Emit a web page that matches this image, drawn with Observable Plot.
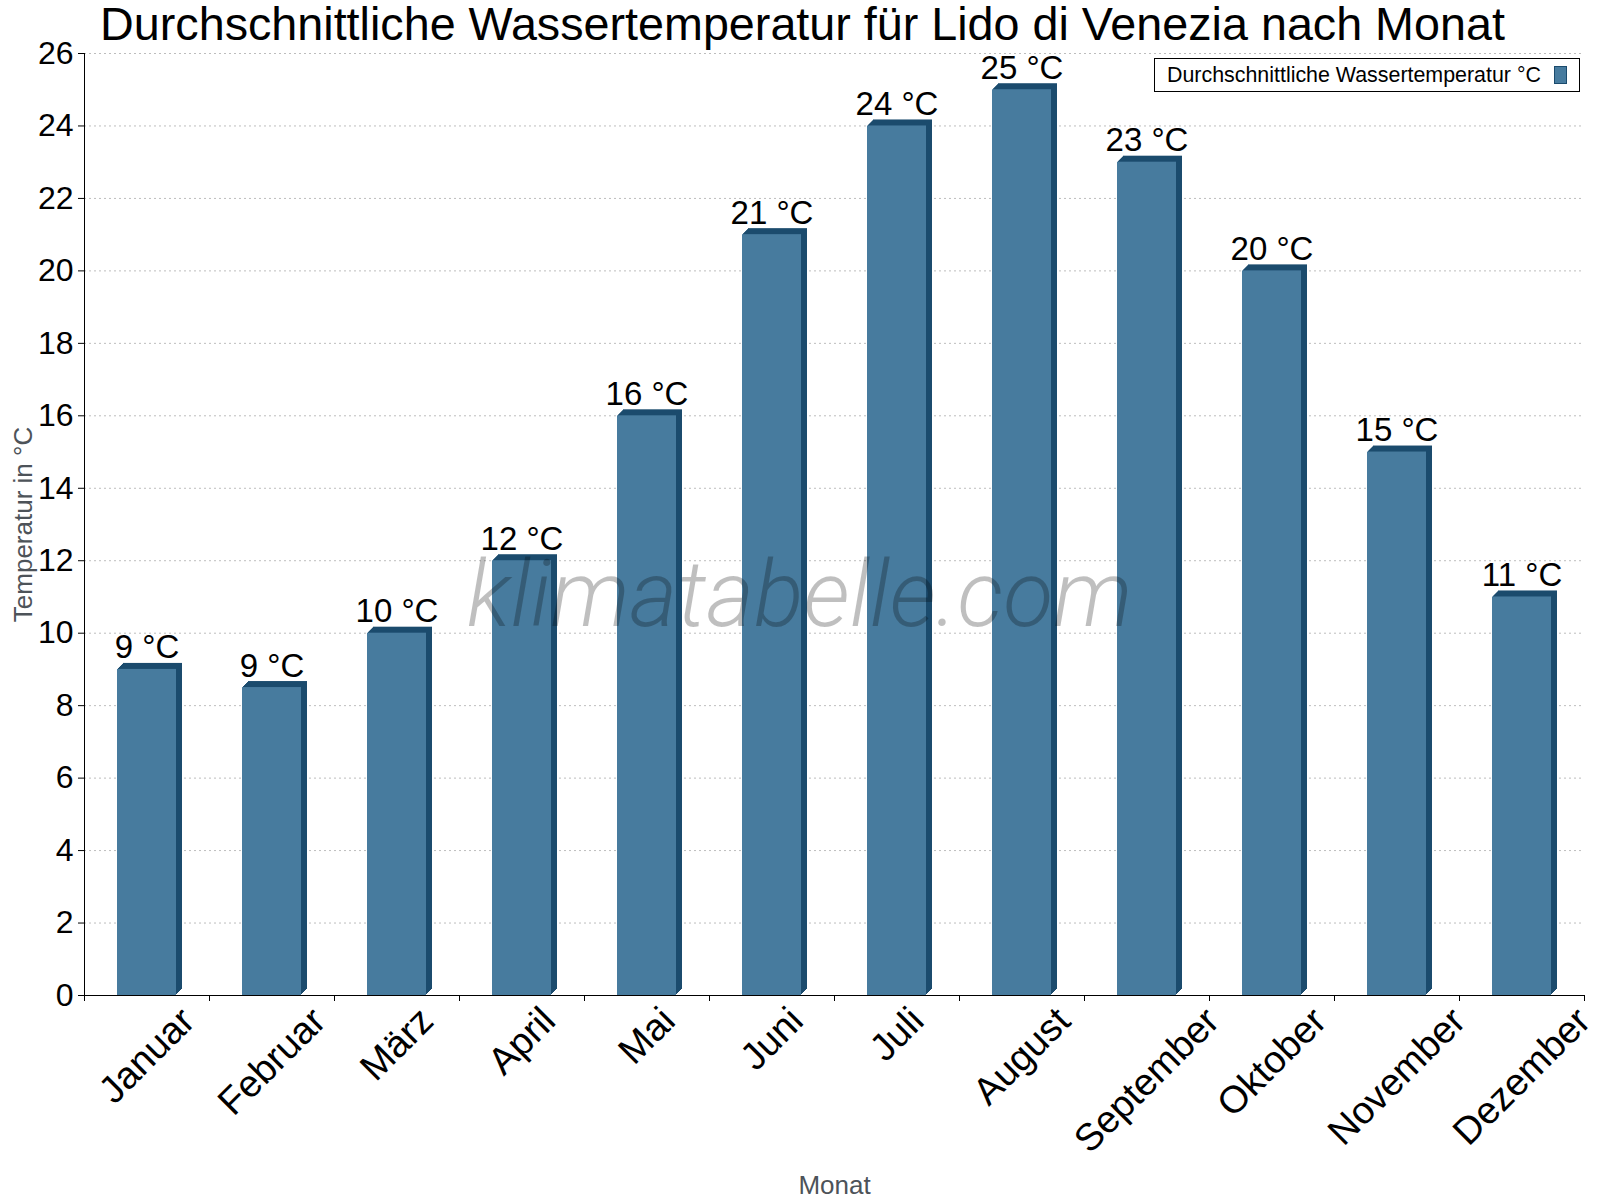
<!DOCTYPE html>
<html>
<head>
<meta charset="utf-8">
<script src="https://cdn.jsdelivr.net/npm/d3@7"></script>
<script src="https://cdn.jsdelivr.net/npm/@observablehq/plot@0.6"></script>
<style>
  html, body { margin: 0; padding: 0; background: #fff; }
  #wrap { position: relative; width: 1600px; height: 1200px; font-family: "Liberation Sans", Arial, sans-serif; }
  #legend { position: absolute; left: 1154px; top: 58px; width: 424px; height: 32px; border: 1px solid #000; background: #fff; box-sizing: content-box; }
  #legend .lt { position: absolute; left: 12px; top: 4px; font-size: 21.4px; line-height: 24px; color: #000; white-space: nowrap; }
  #legend .sw { position: absolute; left: 399px; top: 7px; width: 11px; height: 16px; background: #477b9e; border: 1px solid #1b4b6d; }
</style>
</head>
<body>
<div id="wrap">
  <div id="legend"><span class="lt"></span><span class="sw"></span></div>
</div>
<script>
const titleText = "Durchschnittliche Wassertemperatur für Lido di Venezia nach Monat";
const legendText = "Durchschnittliche Wassertemperatur °C";
const yLabel = "Temperatur in °C";
const xLabel = "Monat";
const watermark = "klimatabelle.com";
const months = ["Januar", "Februar", "März", "April", "Mai", "Juni", "Juli", "August", "September", "Oktober", "November", "Dezember"];
const temps = [9, 8.5, 10, 12, 16, 21, 24, 25, 23, 20, 15, 11];
const yTicks = [0, 2, 4, 6, 8, 10, 12, 14, 16, 18, 20, 22, 24, 26];

const data = months.map((m, i) => ({month: m, value: temps[i]}));

const W = 1600, H = 1200, mL = 84, mR = 16, mT = 53, mB = 205;
const half = (W - mL - mR) / months.length / 2;
const inset = half * 2 * 0.264;
const front = "#477b9e", dark = "#1b4b6d";
const depth = [1, 2, 3, 4, 5, 6];

document.querySelector("#legend .lt").textContent = legendText;

const plot = Plot.plot({
  width: W, height: H,
  marginLeft: mL, marginRight: mR, marginTop: mT, marginBottom: mB,
  style: {fontFamily: "'Liberation Sans', Arial, sans-serif", background: "transparent", color: "#000", overflow: "visible"},
  x: {domain: months, padding: 0, axis: null},
  y: {domain: [0, 26], axis: null},
  marks: [
    Plot.gridY(yTicks, {stroke: "#bdbdbd", strokeOpacity: 1, strokeDasharray: "2,3"}),
    ...depth.map(k => Plot.barY(data, {x: "month", y: "value", fill: dark, insetLeft: inset, insetRight: inset, dx: k, dy: -k})),
    Plot.barY(data, {x: "month", y: "value", fill: front, insetLeft: inset, insetRight: inset}),
    Plot.text([watermark], {frameAnchor: "middle", dx: -35, dy: 101, textAnchor: "middle", lineAnchor: "bottom", fontSize: 92, fontStyle: "italic", fontWeight: 300, fontFamily: "Roboto", fill: "#000", fillOpacity: 0.25}),
    Plot.text(data, {x: "month", y: "value", text: d => `${Math.round(d.value)} °C`, dy: -11, lineAnchor: "bottom", fontSize: 33, fill: "#000"}),
    Plot.ruleY([0], {stroke: "#000"}),
    Plot.ruleX([months[0]], {y1: 0, y2: 26, dx: -half, stroke: "#000"}),
    Plot.axisY({ticks: yTicks, tickSize: 6, tickPadding: 5, fontSize: 32, label: null, tickFormat: d => String(d)}),
    Plot.axisX({ticks: months, tickSize: 6, tickFormat: () => "", label: null, dx: half}),
    Plot.axisX({ticks: [months[0]], tickSize: 6, tickFormat: () => "", label: null, dx: -half}),
    Plot.text(months, {x: d => d, frameAnchor: "bottom", rotate: -45, textAnchor: "end", lineAnchor: "bottom", fontSize: 38, fill: "#000"}),
    Plot.text([titleText], {frameAnchor: "top", dx: -32, dy: -14, textAnchor: "middle", lineAnchor: "bottom", fontSize: 46.7, fill: "#000"}),
    Plot.text([yLabel], {frameAnchor: "left", dx: -53, rotate: -90, textAnchor: "middle", lineAnchor: "bottom", fontSize: 26, fill: "#4d5359"}),
    Plot.text([xLabel], {frameAnchor: "bottom", dy: 198, textAnchor: "middle", lineAnchor: "bottom", fontSize: 26, fill: "#4d5359"})
  ]
});

const wrap = document.getElementById("wrap");
wrap.insertBefore(plot, wrap.firstChild);
plot.style.position = "absolute";
plot.style.left = "0px";
plot.style.top = "0px";

const xLabelNodes = Array.from(plot.querySelectorAll("text")).filter(el =>
  months.includes(el.textContent) && (el.getAttribute("transform") || "").includes("rotate"));
xLabelNodes.forEach(el => { el.__orig = el.getAttribute("transform"); });

function placeLabels() {
  const xs = plot.scale("x");
  const ys = plot.scale("y");
  const svgRect = plot.getBoundingClientRect();
  xLabelNodes.forEach(el => {
    el.setAttribute("transform", el.__orig);
    const r = el.getBoundingClientRect();
    const cx = (r.left + r.right) / 2 - svgRect.left;
    const top = r.top - svgRect.top;
    const targetX = xs.apply(el.textContent) + xs.bandwidth / 2;
    const targetTop = ys.apply(0) + 4;
    el.setAttribute("transform", `translate(${targetX - cx},${targetTop - top}) ` + el.__orig);
  });
}
placeLabels();
if (document.fonts && document.fonts.ready) document.fonts.ready.then(placeLabels);
</script>
</body>
</html>
